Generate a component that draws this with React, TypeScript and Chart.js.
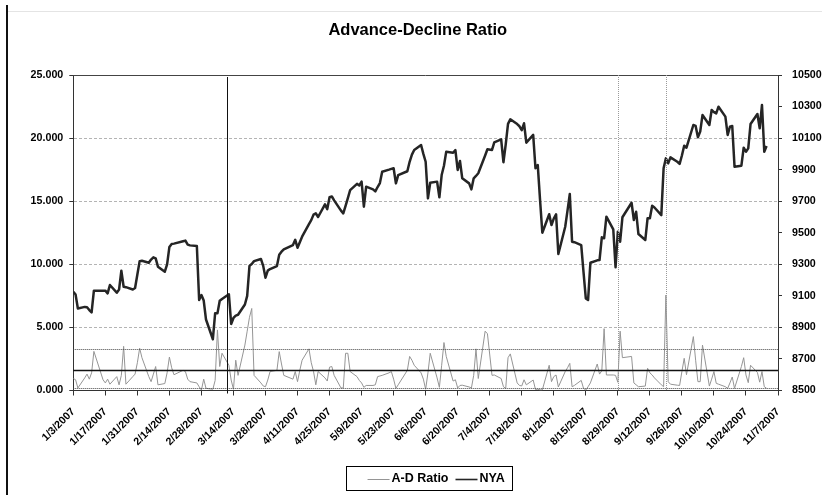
import React, { useEffect, useRef } from 'react';
import { Chart, registerables } from 'chart.js';

Chart.register(...registerables);

// ---------- data ----------
const YEAR = 2007;

const DATES: string[] = [
  '1/3','1/4','1/5','1/8','1/9','1/10','1/11','1/12','1/16','1/17','1/18','1/19','1/22','1/23','1/24','1/25','1/26','1/29','1/30','1/31',
  '2/1','2/2','2/5','2/6','2/7','2/8','2/9','2/12','2/13','2/14','2/15','2/16','2/20','2/21','2/22','2/23','2/26','2/27','2/28',
  '3/1','3/2','3/5','3/6','3/7','3/8','3/9','3/12','3/13','3/14','3/15','3/16','3/19','3/20','3/21','3/22','3/23','3/26','3/27','3/28','3/29','3/30',
  '4/2','4/3','4/4','4/5','4/9','4/10','4/11','4/12','4/13','4/16','4/17','4/18','4/19','4/20','4/23','4/24','4/25','4/26','4/27','4/30',
  '5/1','5/2','5/3','5/4','5/7','5/8','5/9','5/10','5/11','5/14','5/15','5/16','5/17','5/18','5/21','5/22','5/23','5/24','5/25','5/29','5/30','5/31',
  '6/1','6/4','6/5','6/6','6/7','6/8','6/11','6/12','6/13','6/14','6/15','6/18','6/19','6/20','6/21','6/22','6/25','6/26','6/27','6/28','6/29',
  '7/2','7/3','7/5','7/6','7/9','7/10','7/11','7/12','7/13','7/16','7/17','7/18','7/19','7/20','7/23','7/24','7/25','7/26','7/27','7/30','7/31',
  '8/1','8/2','8/3','8/6','8/7','8/8','8/9','8/10','8/13','8/14','8/15','8/16','8/17','8/20','8/21','8/22','8/23','8/24','8/27','8/28','8/29','8/30','8/31',
  '9/4','9/5','9/6','9/7','9/10','9/11','9/12','9/13','9/14','9/17','9/18','9/19','9/20','9/21','9/24','9/25','9/26','9/27','9/28',
  '10/1','10/2','10/3','10/4','10/5','10/8','10/9','10/10','10/11','10/12','10/15','10/16','10/17','10/18','10/19','10/22','10/23','10/24','10/25','10/26','10/29','10/30','10/31',
  '11/1','11/2',
];

const AD_RATIO: number[] = [
  0.95, 0.85, 0.2, 1.0, 1.3, 0.9, 1.4, 3.1, 0.85, 0.6, 0.9, 0.5, 1.1, 0.45, 1.2, 3.5, 0.5, 1.1, 1.3, 2.2,
  3.35, 2.6, 1.1, 0.7, 1.3, 1.9, 0.45, 0.55, 1.4, 2.65, 1.8, 1.25, 1.6, 1.5, 0.9, 0.7, 0.6, 0.3, 0.04,
  0.9, 0.17, 0.1, 0.8, 4.8, 1.9, 2.95, 2.0, 0.83, 0.1, 2.4, 1.2, 3.6, 4.7, 5.8, 6.5, 1.2, 0.6, 0.36, 0.3, 0.83, 1.5,
  1.6, 3.08, 2.1, 1.2, 0.9, 1.5, 0.7, 1.6, 2.4, 3.3, 2.2, 1.5, 0.45, 1.5, 1.0, 0.75, 1.85, 1.9, 1.2, 0.2,
  0.2, 2.95, 2.95, 1.5, 1.1, 0.8, 0.6, 0.25, 0.4, 0.4, 0.45, 1.1, 1.15, 1.2, 1.4, 1.5, 0.9, 0.17, 0.45, 1.6, 2.7, 2.4,
  2.0, 1.4, 0.9, 0.1, 1.4, 2.95, 1.0, 0.25, 2.0, 3.8, 2.7, 0.75, 0.85, 0.2, 0.4, 0.42, 0.28, 0.2, 1.2, 3.3, 0.95,
  4.7, 4.5, 1.2, 1.23, 0.95, 0.3, 0.17, 2.6, 2.9, 0.6, 0.4, 0.36, 0.85, 0.45, 0.83, 0.08, 0.1, 0.05, 0.05, 2.0, 0.7,
  1.1, 1.23, 0.28, 1.5, 1.8, 2.15, 0.3, 0.4, 0.8, 0.17, 0.03, 0.3, 0.6, 2.1, 1.3, 1.57, 4.9, 1.23, 1.23, 1.2, 0.65, 4.7, 2.6,
  2.7, 0.6, 0.45, 0.3, 0.35, 1.76, 1.4, 1.23, 1.0, 0.45, 0.3, 7.56, 0.7, 0.5, 0.42, 0.4, 1.5, 2.55, 1.25,
  4.27, 2.4, 0.7, 0.7, 3.6, 0.35, 0.9, 1.5, 0.57, 0.5, 0.3, 0.17, 0.6, 1.07, 0.17, 1.9, 2.6, 1.23, 0.62, 2.0, 1.43, 0.66, 1.5,
  0.3, 0.18,
];

const NYA: number[] = [
  9126, 9108, 9020, 9030, 9028, 9010, 8995, 9133, 9133, 9133, 9116, 9169, 9120, 9140, 9259, 9158, 9155, 9140, 9150, 9235,
  9320, 9322, 9310, 9330, 9344, 9338, 9285, 9253, 9300, 9410, 9429, 9431, 9446, 9450, 9425, 9420, 9416, 9074, 9105,
  9070, 8950, 8825, 8990, 8989, 9069, 9080, 9110, 8922, 8960, 8975, 8980, 9045, 9100, 9290, 9302, 9320, 9334, 9290, 9215, 9260, 9270,
  9289, 9360, 9380, 9395, 9422, 9455, 9405, 9440, 9475, 9555, 9580, 9615, 9623, 9600, 9680, 9650, 9725, 9730, 9705, 9640,
  9623, 9670, 9720, 9770, 9810, 9800, 9824, 9665, 9792, 9775, 9762, 9790, 9815, 9887, 9900, 9905, 9909, 9813, 9865, 9890, 9950, 9995,
  10025, 10056, 10000, 9950, 9718, 9817, 9824, 9725, 9866, 9925, 10014, 10007, 10024, 9898, 9955, 9845, 9813, 9775, 9845, 9860, 9877,
  9990, 10029, 10025, 10073, 10092, 9947, 10060, 10190, 10219, 10189, 10175, 10150, 10194, 10071, 10120, 9909, 9929, 9708, 9500, 9617, 9549,
  9590, 9617, 9365, 9538, 9640, 9746, 9443, 9440, 9422, 9250, 9084, 9074, 9310, 9325, 9327, 9471, 9465, 9602, 9522, 9281, 9507, 9443, 9598,
  9690, 9581, 9633, 9492, 9454, 9592, 9592, 9671, 9660, 9612, 9909, 9972, 9940, 9978, 9950, 9936, 9990, 10052, 10039,
  10183, 10177, 10105, 10141, 10246, 10183, 10278, 10265, 10257, 10299, 10236, 10120, 10172, 10177, 9919, 9925, 10039, 10014, 10035, 10189, 10253, 10162, 10310,
  10014, 10050,
];

const X_TICK_LABELS: string[] = [
  '1/3/2007', '1/17/2007', '1/31/2007', '2/14/2007', '2/28/2007', '3/14/2007', '3/28/2007', '4/11/2007',
  '4/25/2007', '5/9/2007', '5/23/2007', '6/6/2007', '6/20/2007', '7/4/2007', '7/18/2007', '8/1/2007',
  '8/15/2007', '8/29/2007', '9/12/2007', '9/26/2007', '10/10/2007', '10/24/2007', '11/7/2007',
];
const LEFT_TICKS: number[] = [0, 5, 10, 15, 20, 25];
const RIGHT_TICKS: number[] = [8500, 8700, 8900, 9100, 9300, 9500, 9700, 9900, 10100, 10300, 10500];

// A-D ratio reference levels (band edges and centre)
const AD_BAND_LEVELS: number[] = [3.3, 0.17];
const AD_MID_LEVEL: number[] = [1.65];
// event marker dates
const EVENT_SOLID_DATES: string[] = ['3/11'];
const EVENT_DOTTED_DATES: string[] = ['8/29', '9/19'];

const TITLE = 'Advance-Decline Ratio';
const SERIES_LABELS = ['A-D Ratio', 'NYA'];

// ---------- helpers ----------
const FONT = '"Liberation Sans", Arial, Helvetica, sans-serif';
const START = Date.UTC(YEAR, 0, 3);
function dayOf(s: string): number {
  const p = s.split('/').map(Number);
  const y = p.length > 2 ? p[2] : YEAR;
  return Math.round((Date.UTC(y, p[0] - 1, p[1]) - START) / 86400000);
}

const decorPlugin = {
  id: 'decor',
  beforeDraw(chart: any) {
    const { ctx, width, height } = chart;
    ctx.save();
    ctx.fillStyle = '#ffffff';
    ctx.fillRect(0, 0, width, height);
    ctx.strokeStyle = '#e4e4e4';
    ctx.lineWidth = 1;
    ctx.beginPath();
    ctx.moveTo(8, 11.5);
    ctx.lineTo(width - 1, 11.5);
    ctx.stroke();
    ctx.strokeStyle = '#111111';
    ctx.lineWidth = 2;
    ctx.beginPath();
    ctx.moveTo(7, 5);
    ctx.lineTo(7, height);
    ctx.stroke();
    ctx.restore();
  },
  beforeDatasetsDraw(chart: any) {
    const { ctx, chartArea } = chart;
    ctx.save();
    ctx.strokeStyle = '#444444';
    ctx.lineWidth = 1;
    ctx.beginPath();
    const t = Math.round(chartArea.top) + 0.5;
    ctx.moveTo(chartArea.left, t);
    ctx.lineTo(chartArea.right, t);
    ctx.stroke();
    ctx.restore();
  },
  afterDatasetsDraw(chart: any) {
    const { ctx, chartArea } = chart;
    const ys = chart.scales.y;
    const xs = chart.scales.x;
    ctx.save();
    // horizontal reference lines
    ctx.lineWidth = 1;
    ctx.strokeStyle = '#444444';
    ctx.setLineDash([1, 1]);
    AD_BAND_LEVELS.forEach((v) => {
      const y = Math.round(ys.getPixelForValue(v)) + 0.5;
      ctx.beginPath();
      ctx.moveTo(chartArea.left, y);
      ctx.lineTo(chartArea.right, y);
      ctx.stroke();
    });
    ctx.setLineDash([]);
    ctx.strokeStyle = '#111111';
    ctx.lineWidth = 1.3;
    AD_MID_LEVEL.forEach((v) => {
      const y = Math.round(ys.getPixelForValue(v)) + 0.5;
      ctx.beginPath();
      ctx.moveTo(chartArea.left, y);
      ctx.lineTo(chartArea.right, y);
      ctx.stroke();
    });
    // vertical event lines
    ctx.lineWidth = 1;
    ctx.strokeStyle = '#111111';
    EVENT_SOLID_DATES.forEach((d) => {
      const x = Math.round(xs.getPixelForValue(dayOf(d))) + 0.5;
      ctx.beginPath();
      ctx.moveTo(x, chartArea.top + 2);
      ctx.lineTo(x, chartArea.bottom + 3);
      ctx.stroke();
    });
    ctx.strokeStyle = '#9a9a9a';
    ctx.setLineDash([1, 1]);
    EVENT_DOTTED_DATES.forEach((d) => {
      const x = Math.round(xs.getPixelForValue(dayOf(d))) + 0.5;
      ctx.beginPath();
      ctx.moveTo(x, chartArea.top);
      ctx.lineTo(x, chartArea.bottom);
      ctx.stroke();
    });
    ctx.restore();
  },
  afterDraw(chart: any) {
    // boxed legend below the axis
    const { ctx, chartArea } = chart;
    const xs = chart.scales.x;
    const boxW = 166;
    const boxH = 24;
    const cx = (chartArea.left + chartArea.right) / 2 + 3;
    const left = Math.round(cx - boxW / 2) + 0.5;
    const top = Math.round(xs.bottom + 15) + 0.5;
    ctx.save();
    ctx.fillStyle = '#ffffff';
    ctx.fillRect(left, top, boxW, boxH);
    ctx.strokeStyle = '#000000';
    ctx.lineWidth = 1;
    ctx.strokeRect(left, top, boxW, boxH);
    ctx.font = `bold 12.5px ${FONT}`;
    ctx.textBaseline = 'middle';
    ctx.textAlign = 'left';
    const keyW = 22;
    const gap = 2;
    const itemGap = 7;
    const items = chart.data.datasets;
    const widths = items.map((ds: any) => keyW + gap + ctx.measureText(ds.label).width);
    const total = widths.reduce((a: number, b: number) => a + b, 0) + itemGap * (items.length - 1);
    let x = cx + 7.5 - total / 2;
    const y = top + boxH / 2;
    items.forEach((ds: any, i: number) => {
      ctx.strokeStyle = ds.borderColor;
      ctx.lineWidth = Math.min(ds.borderWidth, 1.6);
      ctx.beginPath();
      ctx.moveTo(x, Math.round(y) + 0.5);
      ctx.lineTo(x + keyW, Math.round(y) + 0.5);
      ctx.stroke();
      ctx.fillStyle = '#000000';
      ctx.fillText(ds.label, x + keyW + gap, y + 0.5);
      x += widths[i] + itemGap;
    });
    ctx.restore();
  },
};

export default function App() {
  const canvasRef = useRef<HTMLCanvasElement | null>(null);

  useEffect(() => {
    const canvas = canvasRef.current;
    if (!canvas) return;
    const xs = DATES.map(dayOf);
    const tickFont = { family: FONT, size: 10.7, weight: 'bold' as const };

    const chart = new Chart(canvas, {
      type: 'line',
      data: {
        datasets: [
          {
            label: SERIES_LABELS[0],
            data: xs.map((x, i) => ({ x, y: AD_RATIO[i] })),
            yAxisID: 'y',
            borderColor: '#959595',
            borderWidth: 1,
            pointRadius: 0,
            tension: 0,
            order: 1,
          },
          {
            label: SERIES_LABELS[1],
            data: xs.map((x, i) => ({ x, y: NYA[i] })),
            yAxisID: 'y1',
            borderColor: '#252525',
            borderWidth: 2.5,
            borderJoinStyle: 'round',
            pointRadius: 0,
            tension: 0,
            order: 0,
          },
        ],
      },
      options: {
        animation: false,
        responsive: false,
        maintainAspectRatio: false,
        devicePixelRatio: 1,
        events: [],
        color: '#000000',
        layout: { padding: { left: 12.6, right: 0, top: 0, bottom: 44.5 } },
        plugins: {
          legend: { display: false },
          tooltip: { enabled: false },
          title: {
            display: true,
            text: TITLE,
            color: '#000000',
            font: { family: FONT, size: 16.5, weight: 'bold' },
            padding: { top: 21, bottom: 34.2 },
          },
        },
        scales: {
          x: {
            type: 'linear',
            min: dayOf(X_TICK_LABELS[0]),
            max: dayOf(X_TICK_LABELS[X_TICK_LABELS.length - 1]),
            afterBuildTicks: (scale: any) => {
              scale.ticks = X_TICK_LABELS.map((l) => ({ value: dayOf(l) }));
            },
            afterFit: (scale: any) => {
              scale.height = 60;
            },
            ticks: {
              autoSkip: false,
              minRotation: 45,
              maxRotation: 45,
              padding: 10,
              color: '#000000',
              font: tickFont,
              callback: (_v: any, i: number) => X_TICK_LABELS[i],
            },
            grid: {
              drawOnChartArea: false,
              drawTicks: true,
              tickLength: 5,
              tickColor: '#333333',
            },
            border: { display: true, color: '#333333', width: 1 },
          },
          y: {
            type: 'linear',
            position: 'left',
            min: LEFT_TICKS[0],
            max: LEFT_TICKS[LEFT_TICKS.length - 1],
            afterBuildTicks: (scale: any) => {
              scale.ticks = LEFT_TICKS.map((v) => ({ value: v }));
            },
            afterFit: (scale: any) => {
              scale.width = 60.7;
            },
            ticks: {
              padding: 6,
              color: '#000000',
              font: tickFont,
              callback: (v: any) => Number(v).toFixed(3),
            },
            grid: {
              drawOnChartArea: true,
              drawTicks: true,
              tickLength: 4,
              tickColor: '#333333',
              color: (c: any) =>
                c.tick && (c.tick.value === LEFT_TICKS[0] || c.tick.value === LEFT_TICKS[LEFT_TICKS.length - 1])
                  ? 'rgba(0,0,0,0)'
                  : '#b4b4b4',
            },
            border: { display: true, color: '#333333', width: 1, dash: [3, 2] },
          },
          y1: {
            type: 'linear',
            position: 'right',
            min: RIGHT_TICKS[0],
            max: RIGHT_TICKS[RIGHT_TICKS.length - 1],
            afterBuildTicks: (scale: any) => {
              scale.ticks = RIGHT_TICKS.map((v) => ({ value: v }));
            },
            afterFit: (scale: any) => {
              scale.width = 45;
            },
            ticks: {
              padding: 10,
              color: '#000000',
              font: tickFont,
              callback: (v: any) => String(v),
            },
            grid: {
              drawOnChartArea: false,
              drawTicks: true,
              tickLength: 4,
              tickColor: '#333333',
            },
            border: { display: true, color: '#333333', width: 1 },
          },
        },
      },
      plugins: [decorPlugin],
    } as any);

    return () => {
      chart.destroy();
    };
  }, []);

  return (
    <div style={{ position: 'absolute', left: 0, top: 0, width: 823, height: 495, background: '#ffffff' }}>
      <canvas ref={canvasRef} width={823} height={495} style={{ display: 'block', width: 823, height: 495 }} />
    </div>
  );
}
